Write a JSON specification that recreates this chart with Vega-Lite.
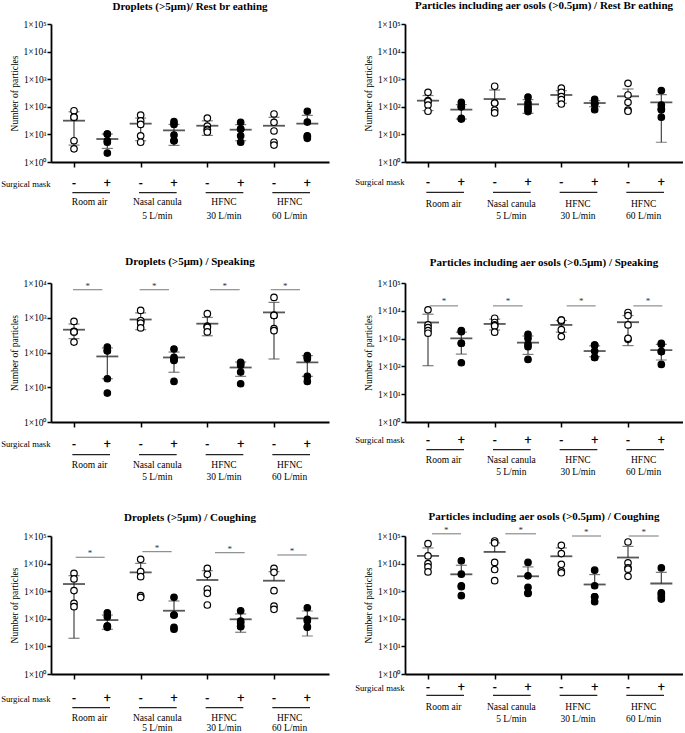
{
"$schema": "https://vega.github.io/schema/vega-lite/v6.json",
"padding": 0,
"background": "white",
"config": {
  "view": {"stroke": null},
  "font": "Liberation Serif",
  "title": {"font": "Liberation Serif", "fontSize": 11, "fontWeight": "bold", "color": "black", "anchor": "middle"},
  "axis": {"grid": false, "domainColor": "black", "domainWidth": 1.8, "tickColor": "black", "tickWidth": 1.5, "labelColor": "black", "titleColor": "black", "labelFont": "Liberation Serif", "titleFont": "Liberation Serif", "labelFontSize": 9.5, "titleFontSize": 9.5, "titleFontWeight": "normal", "labelFlush": false, "labelOverlap": false},
  "axisX": {"tickSize": 5, "labels": false, "titleX": -1, "titleAlign": "right", "titleBaseline": "middle", "titleFontSize": 8.7},
  "axisY": {"tickSize": 4, "labelPadding": 1, "titlePadding": 4}
},
"datasets": {
"masks": [
 {"g": 1, "s": "-"}, {"g": 2, "s": "+"}, {"g": 3, "s": "-"}, {"g": 4, "s": "+"},
 {"g": 5, "s": "-"}, {"g": 6, "s": "+"}, {"g": 7, "s": "-"}, {"g": 8, "s": "+"}
],
"cond": [
 {"a": 0.95, "b": 2.08, "m": 1.47, "l1": "Room air", "l2": ""},
 {"a": 2.95, "b": 4.08, "m": 3.5, "l1": "Nasal canula", "l2": "5 L/min"},
 {"a": 4.95, "b": 6.08, "m": 5.5, "l1": "HFNC", "l2": "30 L/min"},
 {"a": 6.95, "b": 8.08, "m": 7.47, "l1": "HFNC", "l2": "60 L/min"}
],
"sig": [
 {"p": 3, "x1": 0.97, "x2": 1.85, "xm": 1.41, "y": 6400},
 {"p": 3, "x1": 2.97, "x2": 3.85, "xm": 3.41, "y": 6400},
 {"p": 3, "x1": 5.08, "x2": 5.97, "xm": 5.52, "y": 6400},
 {"p": 3, "x1": 6.9, "x2": 7.78, "xm": 7.34, "y": 6400},
 {"p": 4, "x1": 1.05, "x2": 1.9, "xm": 1.48, "y": 15000},
 {"p": 4, "x1": 2.95, "x2": 3.84, "xm": 3.4, "y": 15000},
 {"p": 4, "x1": 5.16, "x2": 6.03, "xm": 5.6, "y": 15000},
 {"p": 4, "x1": 7.16, "x2": 8.03, "xm": 7.6, "y": 15000},
 {"p": 5, "x1": 1.05, "x2": 1.92, "xm": 1.48, "y": 17000},
 {"p": 5, "x1": 3.05, "x2": 3.93, "xm": 3.49, "y": 27000},
 {"p": 5, "x1": 5.23, "x2": 6.12, "xm": 5.67, "y": 24800},
 {"p": 5, "x1": 7.1, "x2": 7.98, "xm": 7.54, "y": 20500},
 {"p": 6, "x1": 1.12, "x2": 1.99, "xm": 1.55, "y": 120000},
 {"p": 6, "x1": 3.32, "x2": 4.24, "xm": 3.78, "y": 120000},
 {"p": 6, "x1": 5.32, "x2": 6.19, "xm": 5.75, "y": 100000},
 {"p": 6, "x1": 7.02, "x2": 7.92, "xm": 7.47, "y": 100000}
],
"stats": [
 {"p":1,"g":1,"mean":31.4,"hi":66,"lo":4.1},{"p":1,"g":2,"mean":6.8,"hi":10.3,"lo":3.1},{"p":1,"g":3,"mean":24.5,"hi":39,"lo":5.9},{"p":1,"g":4,"mean":14,"hi":23,"lo":4.0},
 {"p":1,"g":5,"mean":20.6,"hi":31,"lo":9.2},{"p":1,"g":6,"mean":14.8,"hi":22.6,"lo":5.9},{"p":1,"g":7,"mean":20.6,"hi":41.6,"lo":null},{"p":1,"g":8,"mean":24.5,"hi":49,"lo":null},
 {"p":2,"g":1,"mean":167,"hi":256,"lo":73},{"p":2,"g":2,"mean":79,"hi":120,"lo":36},{"p":2,"g":3,"mean":191,"hi":405,"lo":null},{"p":2,"g":4,"mean":123,"hi":182,"lo":58},
 {"p":2,"g":5,"mean":268,"hi":385,"lo":134},{"p":2,"g":6,"mean":137,"hi":167,"lo":101},{"p":2,"g":7,"mean":240,"hi":442,"lo":null},{"p":2,"g":8,"mean":145,"hi":277,"lo":5.2},
 {"p":3,"g":1,"mean":453,"hi":660,"lo":250},{"p":3,"g":2,"mean":77,"hi":135,"lo":17.6},{"p":3,"g":3,"mean":890,"hi":1380,"lo":453},{"p":3,"g":4,"mean":72,"hi":103,"lo":27},
 {"p":3,"g":5,"mean":675,"hi":1020,"lo":303},{"p":3,"g":6,"mean":37,"hi":53,"lo":20.6},{"p":3,"g":7,"mean":1425,"hi":2770,"lo":65},{"p":3,"g":8,"mean":52,"hi":81,"lo":20.6},
 {"p":4,"g":1,"mean":3800,"hi":7560,"lo":106},{"p":4,"g":2,"mean":1020,"hi":1700,"lo":277},{"p":4,"g":3,"mean":3370,"hi":5000,"lo":2040},{"p":4,"g":4,"mean":716,"hi":1240,"lo":270},
 {"p":4,"g":5,"mean":3100,"hi":4470,"lo":1700},{"p":4,"g":6,"mean":357,"hi":550,"lo":224},{"p":4,"g":7,"mean":3890,"hi":6760,"lo":560},{"p":4,"g":8,"mean":388,"hi":620,"lo":170},
 {"p":5,"g":1,"mean":1820,"hi":3650,"lo":19.7},{"p":5,"g":2,"mean":90,"hi":137,"lo":41.7},{"p":5,"g":3,"mean":4800,"hi":10200,"lo":null},{"p":5,"g":4,"mean":196,"hi":442,"lo":null},
 {"p":5,"g":5,"mean":2550,"hi":5520,"lo":null},{"p":5,"g":6,"mean":96,"hi":150,"lo":32.5},{"p":5,"g":7,"mean":2400,"hi":5100,"lo":null},{"p":5,"g":8,"mean":104,"hi":192,"lo":23.8},
 {"p":6,"g":1,"mean":19000,"hi":37000,"lo":null},{"p":6,"g":2,"mean":4090,"hi":8700,"lo":null},{"p":6,"g":3,"mean":26500,"hi":56000,"lo":null},{"p":6,"g":4,"mean":3470,"hi":7600,"lo":null},
 {"p":6,"g":5,"mean":18400,"hi":37000,"lo":null},{"p":6,"g":6,"mean":1750,"hi":4000,"lo":null},{"p":6,"g":7,"mean":16600,"hi":42000,"lo":null},{"p":6,"g":8,"mean":1900,"hi":4770,"lo":null}
],
"pts": [
 {"p":1,"g":1,"m":"-","v":72,"j":0},{"p":1,"g":1,"m":"-","v":42,"j":-1},{"p":1,"g":1,"m":"-","v":42,"j":1},{"p":1,"g":1,"m":"-","v":5.9,"j":0},{"p":1,"g":1,"m":"-","v":3.0,"j":0},
 {"p":1,"g":2,"m":"+","v":10.3,"j":-1},{"p":1,"g":2,"m":"+","v":10.3,"j":1},{"p":1,"g":2,"m":"+","v":5.9,"j":-1},{"p":1,"g":2,"m":"+","v":5.2,"j":1},{"p":1,"g":2,"m":"+","v":2.1,"j":0},
 {"p":1,"g":3,"m":"-","v":50,"j":0},{"p":1,"g":3,"m":"-","v":31,"j":1},{"p":1,"g":3,"m":"-","v":23,"j":-1},{"p":1,"g":3,"m":"-","v":8.9,"j":0},{"p":1,"g":3,"m":"-","v":5.2,"j":0},
 {"p":1,"g":4,"m":"+","v":29,"j":-1},{"p":1,"g":4,"m":"+","v":23,"j":1},{"p":1,"g":4,"m":"+","v":9.5,"j":0},{"p":1,"g":4,"m":"+","v":5.9,"j":-1},{"p":1,"g":4,"m":"+","v":5.9,"j":1},
 {"p":1,"g":5,"m":"-","v":39,"j":0},{"p":1,"g":5,"m":"-","v":20,"j":-2},{"p":1,"g":5,"m":"-","v":15.3,"j":0},{"p":1,"g":5,"m":"-","v":14.4,"j":2},{"p":1,"g":5,"m":"-","v":12.2,"j":-2},
 {"p":1,"g":6,"m":"+","v":27.5,"j":0},{"p":1,"g":6,"m":"+","v":15.7,"j":-1},{"p":1,"g":6,"m":"+","v":15.7,"j":1},{"p":1,"g":6,"m":"+","v":8.9,"j":0},{"p":1,"g":6,"m":"+","v":5.2,"j":0},
 {"p":1,"g":7,"m":"-","v":55,"j":0},{"p":1,"g":7,"m":"-","v":27.5,"j":0},{"p":1,"g":7,"m":"-","v":13.3,"j":0},{"p":1,"g":7,"m":"-","v":5.2,"j":1},{"p":1,"g":7,"m":"-","v":4.1,"j":-1},
 {"p":1,"g":8,"m":"+","v":69,"j":0},{"p":1,"g":8,"m":"+","v":28,"j":0},{"p":1,"g":8,"m":"+","v":8.9,"j":0},{"p":1,"g":8,"m":"+","v":8.3,"j":2},{"p":1,"g":8,"m":"+","v":7.2,"j":-2},
 {"p":2,"g":1,"m":"-","v":335,"j":0},{"p":2,"g":1,"m":"-","v":167,"j":-2},{"p":2,"g":1,"m":"-","v":158,"j":2},{"p":2,"g":1,"m":"-","v":116,"j":0},{"p":2,"g":1,"m":"-","v":69,"j":0},
 {"p":2,"g":2,"m":"+","v":145,"j":-1},{"p":2,"g":2,"m":"+","v":100,"j":-2},{"p":2,"g":2,"m":"+","v":103,"j":1},{"p":2,"g":2,"m":"+","v":36,"j":-1},{"p":2,"g":2,"m":"+","v":38,"j":1},
 {"p":2,"g":3,"m":"-","v":555,"j":0},{"p":2,"g":3,"m":"-","v":137,"j":-1},{"p":2,"g":3,"m":"-","v":137,"j":1},{"p":2,"g":3,"m":"-","v":76,"j":1},{"p":2,"g":3,"m":"-","v":60,"j":-1},
 {"p":2,"g":4,"m":"+","v":226,"j":0},{"p":2,"g":4,"m":"+","v":137,"j":2},{"p":2,"g":4,"m":"+","v":102,"j":-1},{"p":2,"g":4,"m":"+","v":83,"j":2},{"p":2,"g":4,"m":"+","v":67,"j":-2},
 {"p":2,"g":5,"m":"-","v":478,"j":1},{"p":2,"g":5,"m":"-","v":335,"j":-1},{"p":2,"g":5,"m":"-","v":234,"j":-1},{"p":2,"g":5,"m":"-","v":182,"j":1},{"p":2,"g":5,"m":"-","v":126,"j":-1},
 {"p":2,"g":6,"m":"+","v":187,"j":-2},{"p":2,"g":6,"m":"+","v":145,"j":0},{"p":2,"g":6,"m":"+","v":128,"j":-1},{"p":2,"g":6,"m":"+","v":126,"j":2},{"p":2,"g":6,"m":"+","v":79,"j":0},
 {"p":2,"g":7,"m":"-","v":710,"j":0},{"p":2,"g":7,"m":"-","v":268,"j":0},{"p":2,"g":7,"m":"-","v":145,"j":0},{"p":2,"g":7,"m":"-","v":76,"j":1},{"p":2,"g":7,"m":"-","v":69,"j":-1},
 {"p":2,"g":8,"m":"+","v":386,"j":0},{"p":2,"g":8,"m":"+","v":116,"j":1},{"p":2,"g":8,"m":"+","v":83,"j":-1},{"p":2,"g":8,"m":"+","v":79,"j":1},{"p":2,"g":8,"m":"+","v":42,"j":0},
 {"p":3,"g":1,"m":"-","v":785,"j":0},{"p":3,"g":1,"m":"-","v":405,"j":-2},{"p":3,"g":1,"m":"-","v":390,"j":0},{"p":3,"g":1,"m":"-","v":390,"j":2},{"p":3,"g":1,"m":"-","v":200,"j":0},
 {"p":3,"g":2,"m":"+","v":144,"j":0},{"p":3,"g":2,"m":"+","v":112,"j":-2},{"p":3,"g":2,"m":"+","v":112,"j":2},{"p":3,"g":2,"m":"+","v":17.6,"j":0},{"p":3,"g":2,"m":"+","v":6.8,"j":0},
 {"p":3,"g":3,"m":"-","v":1630,"j":0},{"p":3,"g":3,"m":"-","v":820,"j":-2},{"p":3,"g":3,"m":"-","v":820,"j":2},{"p":3,"g":3,"m":"-","v":705,"j":0},{"p":3,"g":3,"m":"-","v":510,"j":0},
 {"p":3,"g":4,"m":"+","v":126,"j":0},{"p":3,"g":4,"m":"+","v":72,"j":-2},{"p":3,"g":4,"m":"+","v":62,"j":2},{"p":3,"g":4,"m":"+","v":59,"j":0},{"p":3,"g":4,"m":"+","v":14.7,"j":0},
 {"p":3,"g":5,"m":"-","v":1307,"j":0},{"p":3,"g":5,"m":"-","v":565,"j":-2},{"p":3,"g":5,"m":"-","v":565,"j":0},{"p":3,"g":5,"m":"-","v":527,"j":2},{"p":3,"g":5,"m":"-","v":390,"j":-2},
 {"p":3,"g":6,"m":"+","v":52,"j":-2},{"p":3,"g":6,"m":"+","v":48,"j":2},{"p":3,"g":6,"m":"+","v":43,"j":0},{"p":3,"g":6,"m":"+","v":27.5,"j":0},{"p":3,"g":6,"m":"+","v":12.6,"j":0},
 {"p":3,"g":7,"m":"-","v":3850,"j":0},{"p":3,"g":7,"m":"-","v":1170,"j":-1},{"p":3,"g":7,"m":"-","v":1170,"j":1},{"p":3,"g":7,"m":"-","v":485,"j":1},{"p":3,"g":7,"m":"-","v":425,"j":-1},
 {"p":3,"g":8,"m":"+","v":81,"j":-2},{"p":3,"g":8,"m":"+","v":74,"j":2},{"p":3,"g":8,"m":"+","v":66,"j":0},{"p":3,"g":8,"m":"+","v":20.6,"j":0},{"p":3,"g":8,"m":"+","v":14.7,"j":0},
 {"p":4,"g":1,"m":"-","v":10800,"j":0},{"p":4,"g":1,"m":"-","v":3100,"j":-2},{"p":4,"g":1,"m":"-","v":2500,"j":0},{"p":4,"g":1,"m":"-","v":1950,"j":2},{"p":4,"g":1,"m":"-","v":1560,"j":-2},
 {"p":4,"g":2,"m":"+","v":1950,"j":-1},{"p":4,"g":2,"m":"+","v":1780,"j":1},{"p":4,"g":2,"m":"+","v":680,"j":-1},{"p":4,"g":2,"m":"+","v":680,"j":1},{"p":4,"g":2,"m":"+","v":135,"j":0},
 {"p":4,"g":3,"m":"-","v":5400,"j":2},{"p":4,"g":3,"m":"-","v":3800,"j":-2},{"p":4,"g":3,"m":"-","v":3100,"j":2},{"p":4,"g":3,"m":"-","v":2850,"j":0},{"p":4,"g":3,"m":"-","v":1700,"j":0},
 {"p":4,"g":4,"m":"+","v":1430,"j":-1},{"p":4,"g":4,"m":"+","v":1020,"j":1},{"p":4,"g":4,"m":"+","v":630,"j":-1},{"p":4,"g":4,"m":"+","v":510,"j":1},{"p":4,"g":4,"m":"+","v":178,"j":0},
 {"p":4,"g":5,"m":"-","v":4600,"j":-2},{"p":4,"g":5,"m":"-","v":4300,"j":0},{"p":4,"g":5,"m":"-","v":4600,"j":2},{"p":4,"g":5,"m":"-","v":2100,"j":0},{"p":4,"g":5,"m":"-","v":1180,"j":0},
 {"p":4,"g":6,"m":"+","v":590,"j":-1},{"p":4,"g":6,"m":"+","v":590,"j":1},{"p":4,"g":6,"m":"+","v":357,"j":0},{"p":4,"g":6,"m":"+","v":210,"j":-1},{"p":4,"g":6,"m":"+","v":210,"j":1},
 {"p":4,"g":7,"m":"-","v":8700,"j":-1},{"p":4,"g":7,"m":"-","v":6760,"j":1},{"p":4,"g":7,"m":"-","v":3100,"j":0},{"p":4,"g":7,"m":"-","v":940,"j":-1},{"p":4,"g":7,"m":"-","v":1020,"j":1},
 {"p":4,"g":8,"m":"+","v":680,"j":-1},{"p":4,"g":8,"m":"+","v":620,"j":1},{"p":4,"g":8,"m":"+","v":340,"j":-1},{"p":4,"g":8,"m":"+","v":340,"j":1},{"p":4,"g":8,"m":"+","v":118,"j":0},
 {"p":5,"g":1,"m":"-","v":4460,"j":0},{"p":5,"g":1,"m":"-","v":2780,"j":0},{"p":5,"g":1,"m":"-","v":1050,"j":0},{"p":5,"g":1,"m":"-","v":364,"j":1},{"p":5,"g":1,"m":"-","v":275,"j":-1},
 {"p":5,"g":2,"m":"+","v":166,"j":-2},{"p":5,"g":2,"m":"+","v":119,"j":0},{"p":5,"g":2,"m":"+","v":49,"j":-2},{"p":5,"g":2,"m":"+","v":55,"j":0},{"p":5,"g":2,"m":"+","v":55,"j":2},
 {"p":5,"g":3,"m":"-","v":14300,"j":0},{"p":5,"g":3,"m":"-","v":5100,"j":0},{"p":5,"g":3,"m":"-","v":3350,"j":0},{"p":5,"g":3,"m":"-","v":690,"j":1},{"p":5,"g":3,"m":"-","v":600,"j":-1},
 {"p":5,"g":4,"m":"+","v":600,"j":0},{"p":5,"g":4,"m":"+","v":137,"j":-1},{"p":5,"g":4,"m":"+","v":137,"j":1},{"p":5,"g":4,"m":"+","v":49,"j":1},{"p":5,"g":4,"m":"+","v":41.7,"j":-1},
 {"p":5,"g":5,"m":"-","v":6750,"j":0},{"p":5,"g":5,"m":"-","v":4100,"j":0},{"p":5,"g":5,"m":"-","v":1200,"j":-1},{"p":5,"g":5,"m":"-","v":835,"j":1},{"p":5,"g":5,"m":"-","v":316,"j":0},
 {"p":5,"g":6,"m":"+","v":196,"j":0},{"p":5,"g":6,"m":"+","v":83,"j":2},{"p":5,"g":6,"m":"+","v":72,"j":0},{"p":5,"g":6,"m":"+","v":55,"j":2},{"p":5,"g":6,"m":"+","v":51.6,"j":-2},
 {"p":5,"g":7,"m":"-","v":6750,"j":-1},{"p":5,"g":7,"m":"-","v":4840,"j":1},{"p":5,"g":7,"m":"-","v":1045,"j":0},{"p":5,"g":7,"m":"-","v":290,"j":1},{"p":5,"g":7,"m":"-","v":220,"j":-1},
 {"p":5,"g":8,"m":"+","v":252,"j":0},{"p":5,"g":8,"m":"+","v":96,"j":1},{"p":5,"g":8,"m":"+","v":85,"j":-1},{"p":5,"g":8,"m":"+","v":51.6,"j":1},{"p":5,"g":8,"m":"+","v":49,"j":-1},
 {"p":6,"g":1,"m":"-","v":52600,"j":0},{"p":6,"g":1,"m":"-","v":19000,"j":0},{"p":6,"g":1,"m":"-","v":10000,"j":-1},{"p":6,"g":1,"m":"-","v":7600,"j":1},{"p":6,"g":1,"m":"-","v":5000,"j":0},
 {"p":6,"g":2,"m":"+","v":12600,"j":0},{"p":6,"g":2,"m":"+","v":4130,"j":0},{"p":6,"g":2,"m":"+","v":1580,"j":-1},{"p":6,"g":2,"m":"+","v":1450,"j":1},{"p":6,"g":2,"m":"+","v":690,"j":0},
 {"p":6,"g":3,"m":"-","v":66000,"j":-1},{"p":6,"g":3,"m":"-","v":56000,"j":1},{"p":6,"g":3,"m":"-","v":11000,"j":0},{"p":6,"g":3,"m":"-","v":6100,"j":0},{"p":6,"g":3,"m":"-","v":2400,"j":0},
 {"p":6,"g":4,"m":"+","v":11000,"j":0},{"p":6,"g":4,"m":"+","v":3600,"j":0},{"p":6,"g":4,"m":"+","v":1380,"j":0},{"p":6,"g":4,"m":"+","v":880,"j":1},{"p":6,"g":4,"m":"+","v":830,"j":-1},
 {"p":6,"g":5,"m":"-","v":46000,"j":0},{"p":6,"g":5,"m":"-","v":23000,"j":0},{"p":6,"g":5,"m":"-","v":9450,"j":0},{"p":6,"g":5,"m":"-","v":5300,"j":1},{"p":6,"g":5,"m":"-","v":4650,"j":-1},
 {"p":6,"g":6,"m":"+","v":5760,"j":0},{"p":6,"g":6,"m":"+","v":1580,"j":0},{"p":6,"g":6,"m":"+","v":630,"j":-1},{"p":6,"g":6,"m":"+","v":630,"j":1},{"p":6,"g":6,"m":"+","v":418,"j":0},
 {"p":6,"g":7,"m":"-","v":60700,"j":0},{"p":6,"g":7,"m":"-","v":10700,"j":0},{"p":6,"g":7,"m":"-","v":7000,"j":-1},{"p":6,"g":7,"m":"-","v":6300,"j":1},{"p":6,"g":7,"m":"-","v":3470,"j":0},
 {"p":6,"g":8,"m":"+","v":7000,"j":0},{"p":6,"g":8,"m":"+","v":880,"j":-2},{"p":6,"g":8,"m":"+","v":785,"j":0},{"p":6,"g":8,"m":"+","v":630,"j":2},{"p":6,"g":8,"m":"+","v":520,"j":-2}
]
},
"columns": 2,
"spacing": {"row": 114, "column": 76},
"bounds": "flush",
"concat": [
{
 "width": 278, "height": 138,
 "title": {"text": "Droplets (>5μm)/ Rest br eathing", "offset": -3.5, "baseline": "bottom"},
 "layer": [
  {"data": {"name": "masks"}, "mark": {"type": "text", "font": "Liberation Sans", "fontSize": 12, "baseline": "middle", "color": "black", "stroke": "black", "strokeWidth": 0.3}, "encoding": {"x": {"field": "g", "type": "quantitative"}, "y": {"datum": 0.1734, "type": "quantitative"}, "text": {"field": "s"}}},
  {"data": {"name": "cond"}, "mark": {"type": "rule", "color": "#222", "strokeWidth": 1.3}, "encoding": {"x": {"field": "a", "type": "quantitative"}, "x2": {"field": "b"}, "y": {"datum": 0.0772, "type": "quantitative"}}},
  {"data": {"name": "cond"}, "mark": {"type": "text", "fontSize": 9.5, "baseline": "middle", "color": "black"}, "encoding": {"x": {"field": "m", "type": "quantitative"}, "y": {"datum": 0.0347, "type": "quantitative"}, "text": {"field": "l1"}}},
  {"data": {"name": "cond"}, "mark": {"type": "text", "fontSize": 9.5, "baseline": "middle", "color": "black"}, "encoding": {"x": {"field": "m", "type": "quantitative"}, "y": {"datum": 0.0113, "type": "quantitative"}, "text": {"field": "l2"}}},
  {"data": {"name": "stats"}, "transform": [{"filter": "datum.p == 1"}], "mark": {"type": "rule", "color": "#444", "strokeWidth": 1.2}, "encoding": {"x": {"field": "g", "type": "quantitative"}, "y": {"field": "mean", "type": "quantitative"}, "y2": {"field": "hi"}}},
  {"data": {"name": "stats"}, "transform": [{"filter": "datum.p == 1"}], "mark": {"type": "rule", "color": "#444", "strokeWidth": 1.2}, "encoding": {"x": {"field": "g", "type": "quantitative"}, "y": {"field": "lo", "type": "quantitative"}, "y2": {"field": "mean"}}},
  {"data": {"name": "stats"}, "transform": [{"filter": "datum.p == 1"}], "mark": {"type": "tick", "orient": "horizontal", "size": 11, "thickness": 1.2, "color": "#444"}, "encoding": {"x": {"field": "g", "type": "quantitative"}, "y": {"field": "hi", "type": "quantitative"}}},
  {"data": {"name": "stats"}, "transform": [{"filter": "datum.p == 1"}], "mark": {"type": "tick", "orient": "horizontal", "size": 11, "thickness": 1.2, "color": "#444"}, "encoding": {"x": {"field": "g", "type": "quantitative"}, "y": {"field": "lo", "type": "quantitative"}}},
  {"data": {"name": "stats"}, "transform": [{"filter": "datum.p == 1"}], "mark": {"type": "tick", "orient": "horizontal", "size": 22, "thickness": 1.8, "color": "#111"}, "encoding": {"x": {"field": "g", "type": "quantitative"}, "y": {"field": "mean", "type": "quantitative"}}},
  {"data": {"name": "pts"}, "transform": [{"filter": "datum.p == 1"}], "mark": {"type": "circle", "size": 42, "stroke": "black", "strokeWidth": 1.2, "opacity": 1},
   "encoding": {
    "x": {"field": "g", "type": "quantitative", "scale": {"domain": [0.31, 8.65], "nice": false, "zero": false}, "axis": {"values": [1,2,3,4,5,6,7,8], "title": "Surgical mask", "titleY": 21}},
    "xOffset": {"field": "j", "type": "quantitative", "scale": {"domain": [-2, 2], "range": [-8.8, 8.8]}},
    "y": {"field": "v", "type": "quantitative", "scale": {"type": "log", "domain": [1, 100000], "nice": false}, "axis": {"values": [1,10,100,1000,10000,100000], "labelExpr": "'1×10' + ['⁰','¹','²','³','⁴','⁵'][round(log(datum.value)/LN10)]", "title": "Number of particles"}},
    "fill": {"field": "m", "type": "nominal", "scale": {"domain": ["-", "+"], "range": ["white", "black"]}, "legend": null}
   }}
 ]
},
{
 "width": 278, "height": 138,
 "title": {"text": "Particles including aer osols (>0.5μm) / Rest Br eathing", "offset": -3.2, "baseline": "bottom"},
 "layer": [
  {"data": {"name": "masks"}, "mark": {"type": "text", "font": "Liberation Sans", "fontSize": 12, "baseline": "middle", "color": "black", "stroke": "black", "strokeWidth": 0.3}, "encoding": {"x": {"field": "g", "type": "quantitative"}, "y": {"datum": 0.195, "type": "quantitative"}, "text": {"field": "s"}}},
  {"data": {"name": "cond"}, "mark": {"type": "rule", "color": "#222", "strokeWidth": 1.3}, "encoding": {"x": {"field": "a", "type": "quantitative"}, "x2": {"field": "b"}, "y": {"datum": 0.0798, "type": "quantitative"}}},
  {"data": {"name": "cond"}, "mark": {"type": "text", "fontSize": 9.5, "baseline": "middle", "color": "black"}, "encoding": {"x": {"field": "m", "type": "quantitative"}, "y": {"datum": 0.0301, "type": "quantitative"}, "text": {"field": "l1"}}},
  {"data": {"name": "cond"}, "mark": {"type": "text", "fontSize": 9.5, "baseline": "middle", "color": "black"}, "encoding": {"x": {"field": "m", "type": "quantitative"}, "y": {"datum": 0.0108, "type": "quantitative"}, "text": {"field": "l2"}}},
  {"data": {"name": "stats"}, "transform": [{"filter": "datum.p == 2"}], "mark": {"type": "rule", "color": "#444", "strokeWidth": 1.2}, "encoding": {"x": {"field": "g", "type": "quantitative"}, "y": {"field": "mean", "type": "quantitative"}, "y2": {"field": "hi"}}},
  {"data": {"name": "stats"}, "transform": [{"filter": "datum.p == 2"}], "mark": {"type": "rule", "color": "#444", "strokeWidth": 1.2}, "encoding": {"x": {"field": "g", "type": "quantitative"}, "y": {"field": "lo", "type": "quantitative"}, "y2": {"field": "mean"}}},
  {"data": {"name": "stats"}, "transform": [{"filter": "datum.p == 2"}], "mark": {"type": "tick", "orient": "horizontal", "size": 11, "thickness": 1.2, "color": "#444"}, "encoding": {"x": {"field": "g", "type": "quantitative"}, "y": {"field": "hi", "type": "quantitative"}}},
  {"data": {"name": "stats"}, "transform": [{"filter": "datum.p == 2"}], "mark": {"type": "tick", "orient": "horizontal", "size": 11, "thickness": 1.2, "color": "#444"}, "encoding": {"x": {"field": "g", "type": "quantitative"}, "y": {"field": "lo", "type": "quantitative"}}},
  {"data": {"name": "stats"}, "transform": [{"filter": "datum.p == 2"}], "mark": {"type": "tick", "orient": "horizontal", "size": 22, "thickness": 1.8, "color": "#111"}, "encoding": {"x": {"field": "g", "type": "quantitative"}, "y": {"field": "mean", "type": "quantitative"}}},
  {"data": {"name": "pts"}, "transform": [{"filter": "datum.p == 2"}], "mark": {"type": "circle", "size": 42, "stroke": "black", "strokeWidth": 1.2, "opacity": 1},
   "encoding": {
    "x": {"field": "g", "type": "quantitative", "scale": {"domain": [0.31, 8.65], "nice": false, "zero": false}, "axis": {"values": [1,2,3,4,5,6,7,8], "title": "Surgical mask", "titleY": 19.6}},
    "xOffset": {"field": "j", "type": "quantitative", "scale": {"domain": [-2, 2], "range": [-8.8, 8.8]}},
    "y": {"field": "v", "type": "quantitative", "scale": {"type": "log", "domain": [1, 100000], "nice": false}, "axis": {"values": [1,10,100,1000,10000,100000], "labelExpr": "'1×10' + ['⁰','¹','²','³','⁴','⁵'][round(log(datum.value)/LN10)]", "title": "Number of particles"}},
    "fill": {"field": "m", "type": "nominal", "scale": {"domain": ["-", "+"], "range": ["white", "black"]}, "legend": null}
   }}
 ]
},
{
 "width": 278, "height": 146,
 "title": {"text": "Droplets (>5μm) / Speaking", "offset": -1.9, "baseline": "bottom"},
 "layer": [
  {"data": {"name": "masks"}, "mark": {"type": "text", "font": "Liberation Sans", "fontSize": 12, "baseline": "middle", "color": "black", "stroke": "black", "strokeWidth": 0.3}, "encoding": {"x": {"field": "g", "type": "quantitative"}, "y": {"datum": 0.2374, "type": "quantitative"}, "text": {"field": "s"}}},
  {"data": {"name": "cond"}, "mark": {"type": "rule", "color": "#222", "strokeWidth": 1.3}, "encoding": {"x": {"field": "a", "type": "quantitative"}, "x2": {"field": "b"}, "y": {"datum": 0.1146, "type": "quantitative"}}},
  {"data": {"name": "cond"}, "mark": {"type": "text", "fontSize": 9.5, "baseline": "middle", "color": "black"}, "encoding": {"x": {"field": "m", "type": "quantitative"}, "y": {"datum": 0.0564, "type": "quantitative"}, "text": {"field": "l1"}}},
  {"data": {"name": "cond"}, "mark": {"type": "text", "fontSize": 9.5, "baseline": "middle", "color": "black"}, "encoding": {"x": {"field": "m", "type": "quantitative"}, "y": {"datum": 0.0261, "type": "quantitative"}, "text": {"field": "l2"}}},
  {"data": {"name": "sig"}, "transform": [{"filter": "datum.p == 3"}], "mark": {"type": "rule", "color": "#777", "strokeWidth": 1}, "encoding": {"x": {"field": "x1", "type": "quantitative"}, "x2": {"field": "x2"}, "y": {"field": "y", "type": "quantitative"}}},
  {"data": {"name": "sig"}, "transform": [{"filter": "datum.p == 3"}], "mark": {"type": "text", "text": "*", "fontSize": 9, "baseline": "middle", "dy": -4, "color": "#333"}, "encoding": {"x": {"field": "xm", "type": "quantitative"}, "y": {"field": "y", "type": "quantitative"}}},
  {"data": {"name": "stats"}, "transform": [{"filter": "datum.p == 3"}], "mark": {"type": "rule", "color": "#444", "strokeWidth": 1.2}, "encoding": {"x": {"field": "g", "type": "quantitative"}, "y": {"field": "mean", "type": "quantitative"}, "y2": {"field": "hi"}}},
  {"data": {"name": "stats"}, "transform": [{"filter": "datum.p == 3"}], "mark": {"type": "rule", "color": "#444", "strokeWidth": 1.2}, "encoding": {"x": {"field": "g", "type": "quantitative"}, "y": {"field": "lo", "type": "quantitative"}, "y2": {"field": "mean"}}},
  {"data": {"name": "stats"}, "transform": [{"filter": "datum.p == 3"}], "mark": {"type": "tick", "orient": "horizontal", "size": 11, "thickness": 1.2, "color": "#444"}, "encoding": {"x": {"field": "g", "type": "quantitative"}, "y": {"field": "hi", "type": "quantitative"}}},
  {"data": {"name": "stats"}, "transform": [{"filter": "datum.p == 3"}], "mark": {"type": "tick", "orient": "horizontal", "size": 11, "thickness": 1.2, "color": "#444"}, "encoding": {"x": {"field": "g", "type": "quantitative"}, "y": {"field": "lo", "type": "quantitative"}}},
  {"data": {"name": "stats"}, "transform": [{"filter": "datum.p == 3"}], "mark": {"type": "tick", "orient": "horizontal", "size": 22, "thickness": 1.8, "color": "#111"}, "encoding": {"x": {"field": "g", "type": "quantitative"}, "y": {"field": "mean", "type": "quantitative"}}},
  {"data": {"name": "pts"}, "transform": [{"filter": "datum.p == 3"}], "mark": {"type": "circle", "size": 42, "stroke": "black", "strokeWidth": 1.2, "opacity": 1},
   "encoding": {
    "x": {"field": "g", "type": "quantitative", "scale": {"domain": [0.31, 8.65], "nice": false, "zero": false}, "axis": {"values": [1,2,3,4,5,6,7,8], "title": "Surgical mask", "titleY": 21.7}},
    "xOffset": {"field": "j", "type": "quantitative", "scale": {"domain": [-2, 2], "range": [-8.8, 8.8]}},
    "y": {"field": "v", "type": "quantitative", "scale": {"type": "log", "domain": [1, 10000], "range": [146, 7], "nice": false}, "axis": {"values": [1,10,100,1000,10000], "labelExpr": "'1×10' + ['⁰','¹','²','³','⁴','⁵'][round(log(datum.value)/LN10)]", "title": "Number of particles"}},
    "fill": {"field": "m", "type": "nominal", "scale": {"domain": ["-", "+"], "range": ["white", "black"]}, "legend": null}
   }}
 ]
},
{
 "width": 278, "height": 146,
 "title": {"text": "Particles including aer osols (>0.5μm) / Speaking", "offset": -3.2, "baseline": "bottom"},
 "layer": [
  {"data": {"name": "masks"}, "mark": {"type": "text", "font": "Liberation Sans", "fontSize": 12, "baseline": "middle", "color": "black", "stroke": "black", "strokeWidth": 0.3}, "encoding": {"x": {"field": "g", "type": "quantitative"}, "y": {"datum": 0.2309, "type": "quantitative"}, "text": {"field": "s"}}},
  {"data": {"name": "cond"}, "mark": {"type": "rule", "color": "#222", "strokeWidth": 1.3}, "encoding": {"x": {"field": "a", "type": "quantitative"}, "x2": {"field": "b"}, "y": {"datum": 0.1009, "type": "quantitative"}}},
  {"data": {"name": "cond"}, "mark": {"type": "text", "fontSize": 9.5, "baseline": "middle", "color": "black"}, "encoding": {"x": {"field": "m", "type": "quantitative"}, "y": {"datum": 0.0416, "type": "quantitative"}, "text": {"field": "l1"}}},
  {"data": {"name": "cond"}, "mark": {"type": "text", "fontSize": 9.5, "baseline": "middle", "color": "black"}, "encoding": {"x": {"field": "m", "type": "quantitative"}, "y": {"datum": 0.0159, "type": "quantitative"}, "text": {"field": "l2"}}},
  {"data": {"name": "sig"}, "transform": [{"filter": "datum.p == 4"}], "mark": {"type": "rule", "color": "#777", "strokeWidth": 1}, "encoding": {"x": {"field": "x1", "type": "quantitative"}, "x2": {"field": "x2"}, "y": {"field": "y", "type": "quantitative"}}},
  {"data": {"name": "sig"}, "transform": [{"filter": "datum.p == 4"}], "mark": {"type": "text", "text": "*", "fontSize": 9, "baseline": "middle", "dy": -5, "color": "#333"}, "encoding": {"x": {"field": "xm", "type": "quantitative"}, "y": {"field": "y", "type": "quantitative"}}},
  {"data": {"name": "stats"}, "transform": [{"filter": "datum.p == 4"}], "mark": {"type": "rule", "color": "#444", "strokeWidth": 1.2}, "encoding": {"x": {"field": "g", "type": "quantitative"}, "y": {"field": "mean", "type": "quantitative"}, "y2": {"field": "hi"}}},
  {"data": {"name": "stats"}, "transform": [{"filter": "datum.p == 4"}], "mark": {"type": "rule", "color": "#444", "strokeWidth": 1.2}, "encoding": {"x": {"field": "g", "type": "quantitative"}, "y": {"field": "lo", "type": "quantitative"}, "y2": {"field": "mean"}}},
  {"data": {"name": "stats"}, "transform": [{"filter": "datum.p == 4"}], "mark": {"type": "tick", "orient": "horizontal", "size": 11, "thickness": 1.2, "color": "#444"}, "encoding": {"x": {"field": "g", "type": "quantitative"}, "y": {"field": "hi", "type": "quantitative"}}},
  {"data": {"name": "stats"}, "transform": [{"filter": "datum.p == 4"}], "mark": {"type": "tick", "orient": "horizontal", "size": 11, "thickness": 1.2, "color": "#444"}, "encoding": {"x": {"field": "g", "type": "quantitative"}, "y": {"field": "lo", "type": "quantitative"}}},
  {"data": {"name": "stats"}, "transform": [{"filter": "datum.p == 4"}], "mark": {"type": "tick", "orient": "horizontal", "size": 22, "thickness": 1.8, "color": "#111"}, "encoding": {"x": {"field": "g", "type": "quantitative"}, "y": {"field": "mean", "type": "quantitative"}}},
  {"data": {"name": "pts"}, "transform": [{"filter": "datum.p == 4"}], "mark": {"type": "circle", "size": 42, "stroke": "black", "strokeWidth": 1.2, "opacity": 1},
   "encoding": {
    "x": {"field": "g", "type": "quantitative", "scale": {"domain": [0.31, 8.65], "nice": false, "zero": false}, "axis": {"values": [1,2,3,4,5,6,7,8], "title": "Surgical mask", "titleY": 17.7}},
    "xOffset": {"field": "j", "type": "quantitative", "scale": {"domain": [-2, 2], "range": [-8.8, 8.8]}},
    "y": {"field": "v", "type": "quantitative", "scale": {"type": "log", "domain": [1, 100000], "range": [146, 7], "nice": false}, "axis": {"values": [1,10,100,1000,10000,100000], "labelExpr": "'1×10' + ['⁰','¹','²','³','⁴','⁵'][round(log(datum.value)/LN10)]", "title": "Number of particles"}},
    "fill": {"field": "m", "type": "nominal", "scale": {"domain": ["-", "+"], "range": ["white", "black"]}, "legend": null}
   }}
 ]
},
{
 "width": 278, "height": 138,
 "title": {"text": "Droplets (>5μm) / Coughing", "offset": -3, "baseline": "bottom"},
 "layer": [
  {"data": {"name": "masks"}, "mark": {"type": "text", "font": "Liberation Sans", "fontSize": 12, "baseline": "middle", "color": "black", "stroke": "black", "strokeWidth": 0.3}, "encoding": {"x": {"field": "g", "type": "quantitative"}, "y": {"datum": 0.1317, "type": "quantitative"}, "text": {"field": "s"}}},
  {"data": {"name": "cond"}, "mark": {"type": "rule", "color": "#222", "strokeWidth": 1.3}, "encoding": {"x": {"field": "a", "type": "quantitative"}, "x2": {"field": "b"}, "y": {"datum": 0.0601, "type": "quantitative"}}},
  {"data": {"name": "cond"}, "mark": {"type": "text", "fontSize": 9.5, "baseline": "middle", "color": "black"}, "encoding": {"x": {"field": "m", "type": "quantitative"}, "y": {"datum": 0.0265, "type": "quantitative"}, "text": {"field": "l1"}}},
  {"data": {"name": "cond"}, "mark": {"type": "text", "fontSize": 9.5, "baseline": "middle", "color": "black"}, "encoding": {"x": {"field": "m", "type": "quantitative"}, "y": {"datum": 0.0115, "type": "quantitative"}, "text": {"field": "l2"}}},
  {"data": {"name": "sig"}, "transform": [{"filter": "datum.p == 5"}], "mark": {"type": "rule", "color": "#777", "strokeWidth": 1}, "encoding": {"x": {"field": "x1", "type": "quantitative"}, "x2": {"field": "x2"}, "y": {"field": "y", "type": "quantitative"}}},
  {"data": {"name": "sig"}, "transform": [{"filter": "datum.p == 5"}], "mark": {"type": "text", "text": "*", "fontSize": 9, "baseline": "middle", "dy": -4, "color": "#333"}, "encoding": {"x": {"field": "xm", "type": "quantitative"}, "y": {"field": "y", "type": "quantitative"}}},
  {"data": {"name": "stats"}, "transform": [{"filter": "datum.p == 5"}], "mark": {"type": "rule", "color": "#444", "strokeWidth": 1.2}, "encoding": {"x": {"field": "g", "type": "quantitative"}, "y": {"field": "mean", "type": "quantitative"}, "y2": {"field": "hi"}}},
  {"data": {"name": "stats"}, "transform": [{"filter": "datum.p == 5"}], "mark": {"type": "rule", "color": "#444", "strokeWidth": 1.2}, "encoding": {"x": {"field": "g", "type": "quantitative"}, "y": {"field": "lo", "type": "quantitative"}, "y2": {"field": "mean"}}},
  {"data": {"name": "stats"}, "transform": [{"filter": "datum.p == 5"}], "mark": {"type": "tick", "orient": "horizontal", "size": 11, "thickness": 1.2, "color": "#444"}, "encoding": {"x": {"field": "g", "type": "quantitative"}, "y": {"field": "hi", "type": "quantitative"}}},
  {"data": {"name": "stats"}, "transform": [{"filter": "datum.p == 5"}], "mark": {"type": "tick", "orient": "horizontal", "size": 11, "thickness": 1.2, "color": "#444"}, "encoding": {"x": {"field": "g", "type": "quantitative"}, "y": {"field": "lo", "type": "quantitative"}}},
  {"data": {"name": "stats"}, "transform": [{"filter": "datum.p == 5"}], "mark": {"type": "tick", "orient": "horizontal", "size": 22, "thickness": 1.8, "color": "#111"}, "encoding": {"x": {"field": "g", "type": "quantitative"}, "y": {"field": "mean", "type": "quantitative"}}},
  {"data": {"name": "pts"}, "transform": [{"filter": "datum.p == 5"}], "mark": {"type": "circle", "size": 42, "stroke": "black", "strokeWidth": 1.2, "opacity": 1},
   "encoding": {
    "x": {"field": "g", "type": "quantitative", "scale": {"domain": [0.31, 8.65], "nice": false, "zero": false}, "axis": {"values": [1,2,3,4,5,6,7,8], "title": "Surgical mask", "titleY": 24.3}},
    "xOffset": {"field": "j", "type": "quantitative", "scale": {"domain": [-2, 2], "range": [-8.8, 8.8]}},
    "y": {"field": "v", "type": "quantitative", "scale": {"type": "log", "domain": [1, 100000], "nice": false}, "axis": {"values": [1,10,100,1000,10000,100000], "labelExpr": "'1×10' + ['⁰','¹','²','³','⁴','⁵'][round(log(datum.value)/LN10)]", "title": "Number of particles"}},
    "fill": {"field": "m", "type": "nominal", "scale": {"domain": ["-", "+"], "range": ["white", "black"]}, "legend": null}
   }}
 ]
},
{
 "width": 278, "height": 138,
 "title": {"text": "Particles including aer osols (>0.5μm) / Coughing", "offset": -7, "baseline": "bottom"},
 "layer": [
  {"data": {"name": "masks"}, "mark": {"type": "text", "font": "Liberation Sans", "fontSize": 12, "baseline": "middle", "color": "black", "stroke": "black", "strokeWidth": 0.3}, "encoding": {"x": {"field": "g", "type": "quantitative"}, "y": {"datum": 0.338, "type": "quantitative"}, "text": {"field": "s"}}},
  {"data": {"name": "cond"}, "mark": {"type": "rule", "color": "#222", "strokeWidth": 1.3}, "encoding": {"x": {"field": "a", "type": "quantitative"}, "x2": {"field": "b"}, "y": {"datum": 0.169, "type": "quantitative"}}},
  {"data": {"name": "cond"}, "mark": {"type": "text", "fontSize": 9.5, "baseline": "middle", "color": "black"}, "encoding": {"x": {"field": "m", "type": "quantitative"}, "y": {"datum": 0.0621, "type": "quantitative"}, "text": {"field": "l1"}}},
  {"data": {"name": "cond"}, "mark": {"type": "text", "fontSize": 9.5, "baseline": "middle", "color": "black"}, "encoding": {"x": {"field": "m", "type": "quantitative"}, "y": {"datum": 0.024, "type": "quantitative"}, "text": {"field": "l2"}}},
  {"data": {"name": "sig"}, "transform": [{"filter": "datum.p == 6"}], "mark": {"type": "rule", "color": "#777", "strokeWidth": 1}, "encoding": {"x": {"field": "x1", "type": "quantitative"}, "x2": {"field": "x2"}, "y": {"field": "y", "type": "quantitative"}}},
  {"data": {"name": "sig"}, "transform": [{"filter": "datum.p == 6"}], "mark": {"type": "text", "text": "*", "fontSize": 9, "baseline": "middle", "dy": -4, "color": "#333"}, "encoding": {"x": {"field": "xm", "type": "quantitative"}, "y": {"field": "y", "type": "quantitative"}}},
  {"data": {"name": "stats"}, "transform": [{"filter": "datum.p == 6"}], "mark": {"type": "rule", "color": "#444", "strokeWidth": 1.2}, "encoding": {"x": {"field": "g", "type": "quantitative"}, "y": {"field": "mean", "type": "quantitative"}, "y2": {"field": "hi"}}},
  {"data": {"name": "stats"}, "transform": [{"filter": "datum.p == 6"}], "mark": {"type": "rule", "color": "#444", "strokeWidth": 1.2}, "encoding": {"x": {"field": "g", "type": "quantitative"}, "y": {"field": "lo", "type": "quantitative"}, "y2": {"field": "mean"}}},
  {"data": {"name": "stats"}, "transform": [{"filter": "datum.p == 6"}], "mark": {"type": "tick", "orient": "horizontal", "size": 11, "thickness": 1.2, "color": "#444"}, "encoding": {"x": {"field": "g", "type": "quantitative"}, "y": {"field": "hi", "type": "quantitative"}}},
  {"data": {"name": "stats"}, "transform": [{"filter": "datum.p == 6"}], "mark": {"type": "tick", "orient": "horizontal", "size": 11, "thickness": 1.2, "color": "#444"}, "encoding": {"x": {"field": "g", "type": "quantitative"}, "y": {"field": "lo", "type": "quantitative"}}},
  {"data": {"name": "stats"}, "transform": [{"filter": "datum.p == 6"}], "mark": {"type": "tick", "orient": "horizontal", "size": 22, "thickness": 1.8, "color": "#111"}, "encoding": {"x": {"field": "g", "type": "quantitative"}, "y": {"field": "mean", "type": "quantitative"}}},
  {"data": {"name": "pts"}, "transform": [{"filter": "datum.p == 6"}], "mark": {"type": "circle", "size": 42, "stroke": "black", "strokeWidth": 1.2, "opacity": 1},
   "encoding": {
    "x": {"field": "g", "type": "quantitative", "scale": {"domain": [0.31, 8.65], "nice": false, "zero": false}, "axis": {"values": [1,2,3,4,5,6,7,8], "title": "Surgical mask", "titleY": 13}},
    "xOffset": {"field": "j", "type": "quantitative", "scale": {"domain": [-2, 2], "range": [-8.8, 8.8]}},
    "y": {"field": "v", "type": "quantitative", "scale": {"type": "log", "domain": [1, 100000], "nice": false}, "axis": {"values": [1,10,100,1000,10000,100000], "labelExpr": "'1×10' + ['⁰','¹','²','³','⁴','⁵'][round(log(datum.value)/LN10)]", "title": "Number of particles"}},
    "fill": {"field": "m", "type": "nominal", "scale": {"domain": ["-", "+"], "range": ["white", "black"]}, "legend": null}
   }}
 ]
}
]
}
